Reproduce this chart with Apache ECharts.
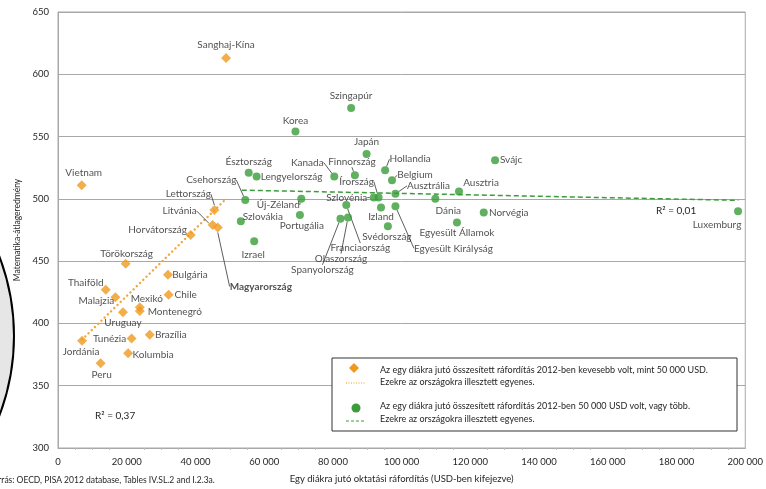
<!DOCTYPE html>
<html>
<head>
<meta charset="utf-8">
<script src="https://cdn.jsdelivr.net/npm/echarts@6/dist/echarts.min.js"></script>
<style>
  html, body { margin: 0; padding: 0; background: #fff; }
  #chart { width: 766px; height: 489px; }
</style>
</head>
<body>
<div id="chart"></div>
<script>
// Countries spending less than 50 000 USD per student (cumulative, 2012)
const lowNames = ['Sanghaj-Kína', 'Vietnam', 'Lettország', 'Litvánia', 'Magyarország', 'Horvátország',
  'Törökország', 'Bulgária', 'Thaiföld', 'Chile', 'Malajzia', 'Mexikó', 'Montenegró', 'Uruguay',
  'Brazília', 'Tunézia', 'Jordánia', 'Kolumbia', 'Peru'];
const lowSpend = [48900, 6900, 45500, 45000, 46500, 38600, 19700, 32000, 13900, 32200, 16700,
  23800, 23800, 18900, 26700, 21400, 7000, 20400, 12400];
const lowScore = [613, 511, 491, 479, 477, 471, 448, 439, 427, 423, 421, 413, 410, 409, 391, 388,
  386, 376, 368];

// Countries spending 50 000 USD or more per student
const highNames = ['Szingapúr', 'Korea', 'Japán', 'Svájc', 'Hollandia', 'Észtország', 'Finnország',
  'Kanada', 'Lengyelország', 'Belgium', 'Ausztria', 'Ausztrália', 'Írország', 'Szlovénia', 'Dánia',
  'Új-Zéland', 'Csehország', 'Egyesült Királyság', 'Izland', 'Luxemburg', 'Norvégia',
  'Franciaország', 'Portugália', 'Olaszország', 'Spanyolország', 'Szlovákia', 'Egyesült Államok',
  'Svédország', 'Izrael'];
const highSpend = [85300, 69100, 89800, 127200, 95200, 55500, 86400, 80400, 57800, 97200, 116700,
  98200, 93300, 91900, 109800, 70800, 54500, 98200, 94000, 197900, 123900, 83900, 70400, 84400,
  82200, 53200, 116100, 96000, 57100];
const highScore = [573, 554, 536, 531, 523, 521, 519, 518, 518, 515, 506, 504, 501, 501, 500, 500,
  499, 494, 493, 490, 489, 495, 487, 485, 484, 482, 481, 478, 466];

// Fitted lines (end points)
const lowFitX = [7000, 49000];
const lowFitY = [387, 500.2];
const highFitX = [53500, 198000];
const highFitY = [507, 498.8];

// Axis ticks
const xTicks = [0, 20000, 40000, 60000, 80000, 100000, 120000, 140000, 160000, 180000, 200000];
const yTicks = [300, 350, 400, 450, 500, 550, 600, 650];

const ORANGE = '#ef9a1e';
const GREEN = '#3a9c3a';
const TEXT = '#262626';
const FONT = 'Lato';

// Label placement relative to each mark [dx, dy, leader line]
const labelPlace = {
  'Sanghaj-Kína': [0, -13], 'Vietnam': [2, -12], 'Lettország': [-26, -16, 1], 'Litvánia': [-33, -14, 1],
  'Magyarország': [43, 59, 1], 'Horvátország': [-33, -5], 'Törökország': [1, -10], 'Bulgária': [22, 0],
  'Thaiföld': [-20, -7], 'Chile': [17, 0], 'Malajzia': [-19, 4], 'Mexikó': [7, -8], 'Montenegró': [35, 1],
  'Uruguay': [0, 11], 'Brazília': [21, 0], 'Tunézia': [-22, 0], 'Jordánia': [-1, 11], 'Kolumbia': [25, 1],
  'Peru': [1, 11],
  'Szingapúr': [0, -12], 'Korea': [0, -11], 'Japán': [0, -12], 'Svájc': [16, 0], 'Hollandia': [25, -11, 1],
  'Észtország': [0, -11], 'Finnország': [-3, -13, 1], 'Kanada': [-27, -14, 1], 'Lengyelország': [35, 0],
  'Belgium': [23, -5, 1], 'Ausztria': [22, -9], 'Ausztrália': [33, -8, 1], 'Írország': [-22, -16, 1],
  'Szlovénia': [-27, 0, 1], 'Dánia': [13, 12], 'Új-Zéland': [-23, 6, 1], 'Csehország': [-34, -20, 1],
  'Egyesült Királyság': [58, 42, 1], 'Izland': [0, 9], 'Luxemburg': [-21, 13], 'Norvégia': [25, 0],
  'Franciaország': [14, 43, 1], 'Portugália': [2, 11], 'Olaszország': [-7, 41, 1],
  'Spanyolország': [-18, 51, 1], 'Szlovákia': [22, -4], 'Egyesült Államok': [0, 10.5],
  'Svédország': [-1, 11], 'Izrael': [-1, 14]
};

function points(names, xs, ys) {
  return names.map((n, i) => {
    const p = labelPlace[n] || [0, -11];
    const item = { name: n, value: [xs[i], ys[i]], labelLine: { show: !!p[2] } };
    if (n === 'Magyarország') item.label = { fontWeight: 'bold' };
    return item;
  });
}

// series index -> country names, used when positioning labels
const namesBySeries = { 2: lowNames, 3: highNames };

function placeLabel(params) {
  const names = namesBySeries[params.seriesIndex] || [];
  const p = labelPlace[names[params.dataIndex]] || [0, -11];
  const cx = params.rect.x + params.rect.width / 2;
  const cy = params.rect.y + params.rect.height / 2;
  return { x: cx + p[0], y: cy + p[1], align: 'center', verticalAlign: 'middle' };
}

const pointLabel = { show: true, formatter: '{b}', color: TEXT, fontSize: 10, fontFamily: FONT, position: 'inside' };
const leader = { lineStyle: { color: '#333', width: 0.8 }, smooth: false };

const chart = echarts.init(document.getElementById('chart'), null, { renderer: 'canvas' });

const legendX = 332, legendY = 358;
const legendText = (y, t) => ({
  type: 'text', left: legendX + 48, top: y, z: 11,
  style: { text: t, fill: TEXT, font: '9px ' + FONT }
});

chart.setOption({
  animation: false,
  textStyle: { fontFamily: FONT },
  grid: { left: 58, right: 18, top: 12, bottom: 38, show: true, borderColor: '#a8a8a8', borderWidth: 1 },
  xAxis: {
    type: 'value', min: xTicks[0], max: xTicks[xTicks.length - 1], interval: xTicks[1] - xTicks[0],
    name: 'Egy diákra jutó oktatási ráfordítás (USD-ben kifejezve)',
    nameLocation: 'middle', nameGap: 26,
    nameTextStyle: { color: TEXT, fontSize: 9.5, fontFamily: FONT },
    axisLine: { lineStyle: { color: '#a8a8a8' } },
    axisTick: { show: false },
    minorTick: { show: true, splitNumber: 4, length: 2, lineStyle: { color: '#bbb' } },
    splitLine: { show: false },
    axisLabel: {
      color: TEXT, fontSize: 9.5, margin: 9, fontFamily: FONT,
      formatter: v => String(v).replace(/\B(?=(\d{3})+(?!\d))/g, ' ')
    }
  },
  yAxis: {
    type: 'value', min: yTicks[0], max: yTicks[yTicks.length - 1], interval: yTicks[1] - yTicks[0],
    name: 'Matematika-átlageredmény', nameLocation: 'middle', nameGap: 35,
    nameTextStyle: { color: TEXT, fontSize: 8.5, fontFamily: FONT },
    axisLine: { show: true, lineStyle: { color: '#a8a8a8' } },
    axisTick: { show: false },
    splitLine: { lineStyle: { color: '#a8a8a8', width: 1 } },
    axisLabel: { color: TEXT, fontSize: 9.5, margin: 9, fontFamily: FONT }
  },
  series: [
    {
      name: 'fit-low', type: 'line', showSymbol: false, silent: true, z: 1,
      data: lowFitX.map((x, i) => [x, lowFitY[i]]),
      lineStyle: { color: '#f2a640', width: 2.4, type: [0.1, 4.4], cap: 'round' }
    },
    {
      name: 'fit-high', type: 'line', showSymbol: false, silent: true, z: 1,
      data: highFitX.map((x, i) => [x, highFitY[i]]),
      lineStyle: { color: GREEN, width: 1.5, type: [5, 3] }
    },
    {
      name: 'low', type: 'scatter', symbol: 'diamond', symbolSize: 10, z: 3,
      itemStyle: { color: ORANGE },
      data: points(lowNames, lowSpend, lowScore),
      label: pointLabel, labelLayout: placeLabel, labelLine: leader
    },
    {
      name: 'high', type: 'scatter', symbol: 'circle', symbolSize: 8, z: 3,
      itemStyle: { color: GREEN },
      data: points(highNames, highSpend, highScore),
      label: pointLabel, labelLayout: placeLabel, labelLine: leader
    }
  ],
  graphic: [
    // lens outline at the left edge
    { type: 'circle', shape: { cx: -210, cy: 336, r: 224 }, z: 0,
      style: { fill: '#e6e6e6', stroke: '#000', lineWidth: 2 } },
    { type: 'text', left: 95, top: 411, z: 5,
      style: { text: 'R² = 0,37', fill: TEXT, font: '10px ' + FONT } },
    { type: 'text', left: 656, top: 206, z: 5,
      style: { text: 'R² = 0,01', fill: TEXT, font: '10px ' + FONT } },
    { type: 'text', left: -11, top: 476, z: 5,
      style: { text: 'Forrás: OECD, PISA 2012 database, Tables IV.SL.2 and I.2.3a.', fill: TEXT, font: '8.5px ' + FONT } },
    // legend box
    { type: 'rect', shape: { x: legendX, y: legendY, width: 405, height: 73 }, z: 10,
      style: { fill: '#fff', stroke: '#333', lineWidth: 1 } },
    { type: 'polygon', z: 11, shape: { points: [[354, 363], [359, 368], [354, 373], [349, 368]] },
      style: { fill: ORANGE } },
    { type: 'line', z: 11, shape: { x1: 346, y1: 383, x2: 366, y2: 383 },
      style: { stroke: ORANGE, lineWidth: 1.2, lineDash: [1, 1.5] } },
    { type: 'circle', z: 11, shape: { cx: 356, cy: 408, r: 4.5 }, style: { fill: GREEN } },
    { type: 'line', z: 11, shape: { x1: 346, y1: 421, x2: 366, y2: 421 },
      style: { stroke: GREEN, lineWidth: 1.2, lineDash: [3, 2] } },
    legendText(366, 'Az egy diákra jutó összesített ráfordítás 2012-ben kevesebb volt, mint 50 000 USD.'),
    legendText(378, 'Ezekre az országokra illesztett egyenes.'),
    legendText(402, 'Az egy diákra jutó összesített ráfordítás 2012-ben 50 000 USD volt, vagy több.'),
    legendText(415, 'Ezekre az országokra illesztett egyenes.')
  ]
});
</script>
</body>
</html>
